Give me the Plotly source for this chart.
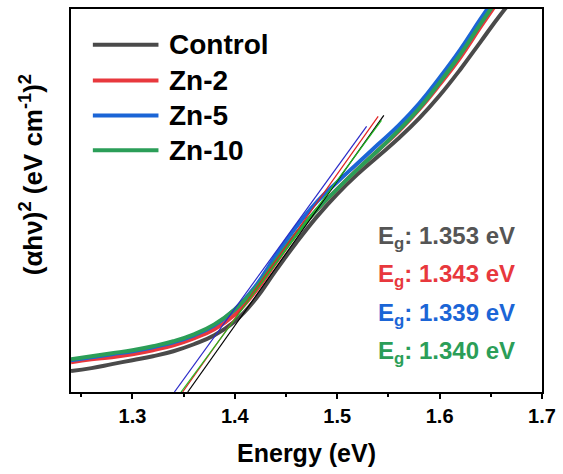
import plotly.graph_objects as go

# ---------------- data ----------------
energy = [1.24, 1.26, 1.28, 1.30, 1.32, 1.34, 1.36, 1.38, 1.40, 1.42, 1.44, 1.46,
          1.48, 1.50, 1.52, 1.54, 1.56, 1.58, 1.60, 1.62, 1.64, 1.66, 1.68]

control = [21, 24, 28, 32, 36, 41, 48, 57, 71, 93, 122, 150,
           176, 199, 219, 237, 255, 275, 298, 324, 352, 380, 405]
zn2 = [30, 33, 35, 38, 42, 47, 54, 63, 78, 101, 130, 159,
       183, 204, 224, 243, 262, 284, 309, 336, 367, 397, 427]
zn5 = [32, 35, 38, 41, 45, 50, 57, 67, 83, 106, 137, 166,
       191, 211, 230, 249, 268, 290, 316, 344, 375, 405, 435]
zn10 = [33, 36, 39, 42, 46, 51, 58, 68, 83, 104, 132, 159,
        183, 204, 224, 243, 263, 285, 311, 339, 370, 400, 430]

names = ["Control", "Zn-2", "Zn-5", "Zn-10"]
series = [control, zn2, zn5, zn10]
colors = ["#4a4a4a", "#e8383d", "#1b65d6", "#2b9e58"]

# linear (tangent) fits: start at y=0, end point
fit_start_E = [1.354, 1.349, 1.341, 1.3475]
fit_end_E = [1.5455, 1.540, 1.5287, 1.5432]
fit_end_y = [278, 277, 267, 273]
fit_colors = ["#000000", "#e02020", "#2a2ac8", "#22bb22"]

eg_values = ["1.353", "1.343", "1.339", "1.340"]
eg_colors = ["#555555", "#e8383d", "#1b65d6", "#2b9e58"]

x_ticks = [1.3, 1.4, 1.5, 1.6, 1.7]
x_range = [1.24, 1.7]
y_range = [0, 385]

FONT = "Liberation Sans, Arial, Helvetica, sans-serif"

fig = go.Figure()

for name, ys, c in zip(names, series, colors):
    fig.add_trace(go.Scatter(x=energy, y=ys, mode="lines", name=name,
                             line=dict(color=c, width=4, shape="spline", smoothing=1.3),
                             showlegend=False))

for x0, x1, y1, c in zip(fit_start_E, fit_end_E, fit_end_y, fit_colors):
    fig.add_trace(go.Scatter(x=[x0, x1], y=[0, y1], mode="lines",
                             line=dict(color=c, width=1.2), showlegend=False))

# custom legend (layout decoration)
legend_rows = [0.9065, 0.813, 0.722, 0.631]
for name, c, yy in zip(names, colors, legend_rows):
    fig.add_shape(type="line", xref="paper", yref="paper", x0=0.0464, x1=0.1857,
                  y0=yy, y1=yy, line=dict(color=c, width=4))
    fig.add_annotation(xref="paper", yref="paper", x=0.2046, y=yy, xanchor="left",
                       yanchor="middle", showarrow=False, text="<b>%s</b>" % name,
                       font=dict(family=FONT, size=28, color="#000000"))

eg_rows = [0.4026, 0.3039, 0.2026, 0.1039]
for v, c, yy in zip(eg_values, eg_colors, eg_rows):
    fig.add_annotation(xref="paper", yref="paper", x=0.947, y=yy, xanchor="right",
                       yanchor="middle", showarrow=False,
                       text="<b>E<sub>g</sub>: %s eV</b>" % v,
                       font=dict(family=FONT, size=24, color=c))

# y-axis title as annotation
fig.add_annotation(xref="paper", yref="paper", x=-0.084, y=0.567, xanchor="center",
                   yanchor="middle", showarrow=False, textangle=-90,
                   text="<b>(\u03b1h\u03bd)<sup>2</sup> (eV cm<sup>-1</sup>)<sup>2</sup></b>",
                   font=dict(family=FONT, size=26, color="#000000"))

fig.update_layout(
    width=563, height=474,
    margin=dict(l=71, r=18, t=7, b=82),
    paper_bgcolor="white", plot_bgcolor="white",
    showlegend=False,
    font=dict(family=FONT, color="#000000"),
)
fig.update_xaxes(
    range=x_range, tickvals=x_ticks, ticktext=["%.1f" % t for t in x_ticks],
    ticks="outside", ticklen=5, tickwidth=2, tickcolor="black",
    minor=dict(dtick=0.05, tick0=1.25, ticks="outside", ticklen=3, tickwidth=2, tickcolor="black"),
    showline=True, linecolor="black", linewidth=2, mirror=True,
    showgrid=False, zeroline=False,
    tickfont=dict(family=FONT, size=20, weight="bold", color="black"),
    title=dict(text="<b>Energy (eV)</b>", font=dict(family=FONT, size=25, color="black"), standoff=18),
)
fig.update_yaxes(
    range=y_range, showticklabels=False, ticks="",
    showline=True, linecolor="black", linewidth=2, mirror=True,
    showgrid=False, zeroline=False,
)

fig.write_html("out.html")
